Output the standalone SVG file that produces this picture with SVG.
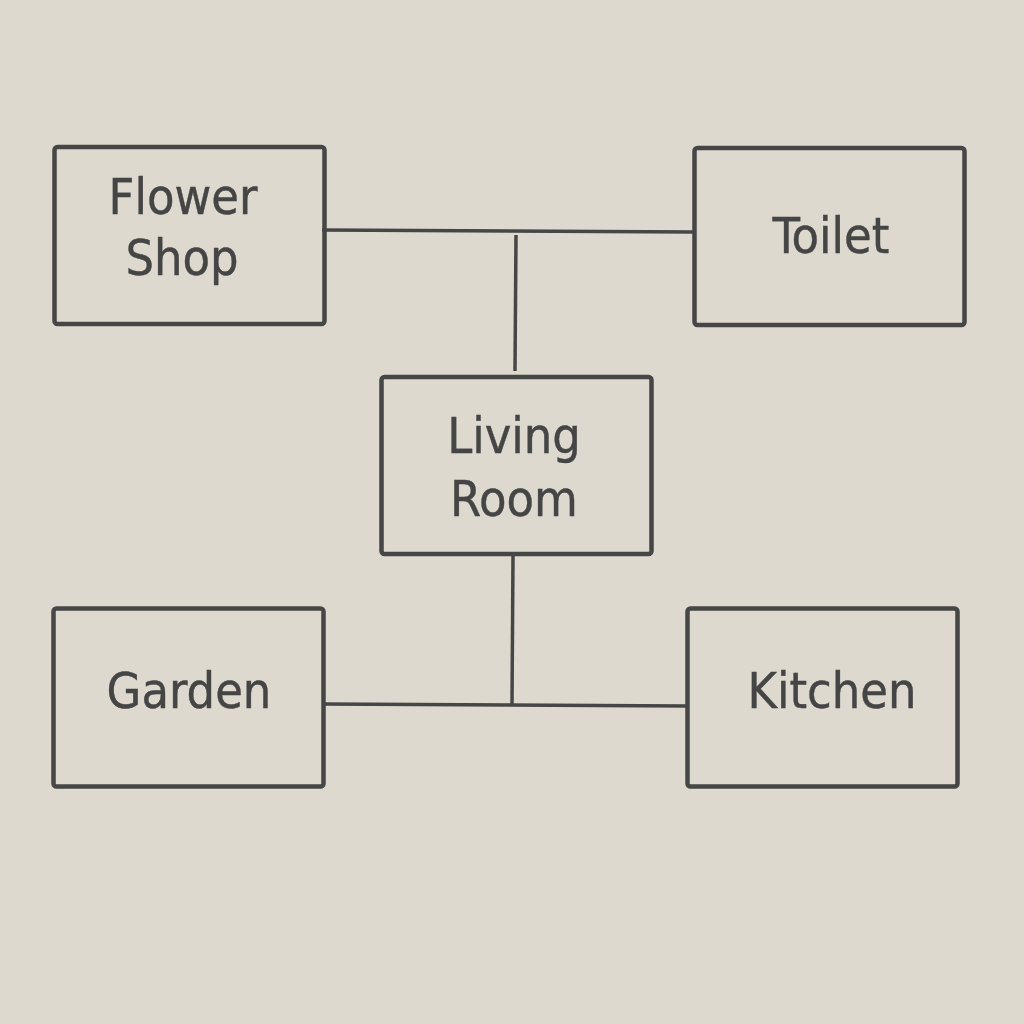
<svg xmlns="http://www.w3.org/2000/svg" width="1024" height="1024" viewBox="0 0 1024 1024">
<style>
.box{fill:none;stroke:#464646;stroke-width:4.5}
.lbl{font-family:"DejaVu Sans Condensed","DejaVu Sans",sans-serif;font-stretch:condensed;font-size:50px;fill:#454545;text-anchor:middle;stroke:#454545;stroke-width:0.4}
.edge{stroke:#464646;stroke-width:3.5;fill:none}
</style>
<rect width="1024" height="1024" fill="#DED9CE"/>
<g id="connectors">
<path class="edge" d="M322 230 L694 232"/>
<path class="edge" d="M516 235 L515 371"/>
<path class="edge" d="M513 556 L512 704"/>
<path class="edge" d="M322 704 L687 706"/>
</g>
<g id="flower-shop">
<rect class="box" x="54.5" y="147" width="270" height="177" rx="3"/>
<text class="lbl" x="183" y="214">Flower</text>
<text class="lbl" x="182" y="275">Shop</text>
</g>
<g id="toilet">
<rect class="box" x="694.5" y="148" width="270" height="177" rx="3"/>
<text class="lbl" x="831" y="253">Toilet</text>
</g>
<g id="living-room">
<rect class="box" x="381.5" y="377" width="270" height="177" rx="3"/>
<text class="lbl" x="514" y="453">Living</text>
<text class="lbl" x="514" y="516">Room</text>
</g>
<g id="garden">
<rect class="box" x="53.5" y="608.5" width="270" height="178" rx="3"/>
<text class="lbl" x="189" y="708">Garden</text>
</g>
<g id="kitchen">
<rect class="box" x="687.5" y="608.5" width="270" height="178" rx="3"/>
<text class="lbl" x="832" y="708">Kitchen</text>
</g>
</svg>
